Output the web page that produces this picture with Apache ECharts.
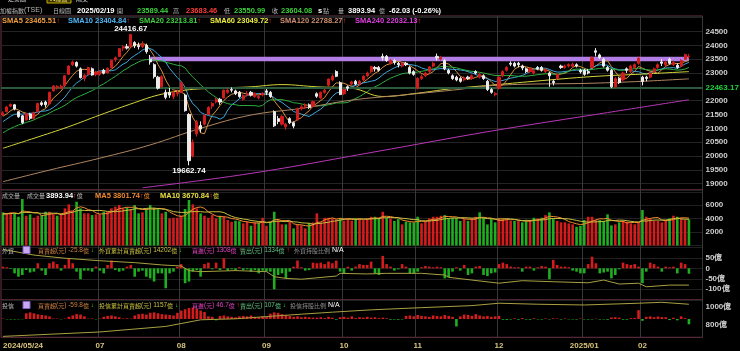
<!DOCTYPE html>
<html><head><meta charset="utf-8">
<script src="https://cdn.jsdelivr.net/npm/echarts@6/dist/echarts.min.js"></script>
<style>html,body{margin:0;padding:0;background:#000;}#c{width:740px;height:351px;}</style>
</head><body><div id="c"></div><script>
// ---------- categories ----------
const tradingDays = {
  '2024/05': [24,27,28,29,30,31],
  '2024/06': [3,4,5,6,7,11,12,13,14,17,18,19,20,21,24,25,26,27,28],
  '2024/07': [1,2,3,4,5,8,9,10,11,12,15,16,17,18,19,22,23,26,29,30,31],
  '2024/08': [1,2,5,6,7,8,9,12,13,14,15,16,19,20,21,22,23,26,27,28,29,30],
  '2024/09': [2,3,4,5,6,9,10,11,12,13,16,18,19,20,23,24,25,26,27,30],
  '2024/10': [1,4,7,8,9,11,14,15,16,17,18,21,22,23,24,25,28,29,30],
  '2024/11': [1,4,5,6,7,8,11,12,13,14,15,18,19,20,21,22,25,26,27,28,29],
  '2024/12': [2,3,4,5,6,9,10,11,12,13,16,17,18,19,20,23,24,25,26,27,30,31],
  '2025/01': [2,3,6,7,8,9,10,13,14,15,16,17,20,21,22],
  '2025/02': [3,4,5,6,7,10,11,12,13,14,17,18,19]
};
const tickNames = {'2024/05':'2024/05/24','2024/07':'07','2024/08':'08','2024/09':'09','2024/10':'10',
  '2024/11':'11','2024/12':'12','2025/01':'2025/01','2025/02':'02'};

// ---------- price (open, close, low, high) ----------
const priorCloses = [20116,20361,20397,20222,20330,20522,20574,20503,20600,20711,20804,20857,21000,21300,21258,21320,21300,21350,21650];
const ohlc = [
[21480,21560,21440,21620],[21600,21770,21580,21800],[21800,21860,21760,21900],[21850,21700,21650,21880],[21600,21420,21380,21620],[21450,21200,21150,21480],
[21300,21540,21280,21560],[21520,21360,21300,21560],[21350,21560,21330,21600],[21600,21900,21580,21920],[21920,21860,21800,21980],[21950,21850,21750,22000],
[21880,22300,21860,22330],[22350,22530,22330,22560],[22480,22510,22400,22560],[22450,22520,22420,22580],[22550,22900,22540,22920],[22950,23250,22930,23280],
[23300,23400,23250,23450],[23380,23250,23200,23420],[23150,22830,22800,23200],[22800,22920,22700,22960],[22950,23200,22920,23230],[23150,22930,22900,23200],
[22950,23030,22880,23080],
[22950,23050,22900,23100],[23100,22990,22950,23150],[23000,23170,22980,23200],[23200,23460,23180,23480],[23480,23550,23400,23600],[23600,23880,23580,23900],
[23900,23950,23800,24000],[23950,23900,23850,24050],[23950,24390,23950,24416.67],[24100,23980,23900,24150],[24000,23950,23850,24100],[23950,24050,23900,24150],
[24000,23770,23700,24060],[23500,23400,23300,23650],[23300,22870,22800,23350],[22850,22450,22400,22900],[22500,22870,22480,22920],[22300,22120,22050,22400],
[22300,22200,22100,22460],[22150,22300,22050,22350],[22250,22300,22150,22400],
[22300,22640,22280,22700],[22200,21640,21600,22250],[21500,19830,19662.74,21550],[20000,20500,19950,20600],[20800,21240,20700,21300],[21100,20975,20850,21250],
[21150,21470,21100,21500],[21500,21750,21480,21800],[21800,21900,21700,21950],[21950,22050,21900,22100],[22050,21950,21850,22100],[22100,22380,22080,22400],
[22300,22380,22250,22450],[22400,22380,22300,22480],[22350,22250,22200,22400],[22300,22150,22100,22350],[22050,22180,22000,22230],[22200,22250,22150,22350],
[22300,22200,22150,22350],[22150,22270,22100,22300],[22100,22150,22050,22250],[22200,22270,22150,22300],
[22350,22300,22200,22420],[22300,22150,22100,22350],[21600,21090,21050,21650],[21350,21250,21150,21450],[21150,21430,21100,21480],[21050,21150,20950,21200],
[21350,21200,21150,21400],[21200,21080,21000,21250],[21300,21700,21280,21750],[21700,21780,21650,21850],[21800,21850,21700,21900],[21850,21750,21700,21900],
[21800,21970,21750,22000],[22250,22160,22100,22300],[22100,22300,22050,22330],[22300,22380,22250,22420],[22560,22780,22500,22800],[22750,22880,22700,22950],
[23050,22880,22850,23100],[22650,22220,22200,22700],
[22250,22400,22200,22450],[22500,22450,22350,22550],[22600,22680,22550,22720],[22700,22600,22550,22750],[22600,22700,22550,22750],[22750,22880,22700,22920],
[22900,23000,22850,23050],[23050,23230,23000,23260],[23200,23150,23050,23250],[23200,23100,23050,23250],[23600,23550,23450,23700],[23600,23450,23400,23650],
[23350,23450,23300,23500],[23450,23380,23300,23500],[23350,23300,23200,23400],[23250,23350,23200,23400],[23350,23300,23250,23400],[23200,23000,22950,23250],
[23050,22950,22900,23100],
[22450,22800,22400,22850],[22800,22870,22750,22950],[22900,23000,22850,23050],[23050,23220,23000,23250],[23250,23350,23200,23400],[23600,23550,23450,23700],
[23500,23560,23450,23620],[23450,23150,23100,23500],[23100,23000,22950,23150],[22900,22800,22750,22950],[22850,22750,22700,22900],[22800,22700,22650,22850],
[22750,22820,22700,22880],[22850,22800,22750,22900],[22800,22900,22750,22950],[23050,23000,22950,23100],[22850,22950,22800,23000],[22900,22800,22750,22950],
[22700,22400,22350,22750],[22400,22300,22250,22450],[22220,22260,22150,22320],
[22450,22850,22400,22880],[22900,23050,22850,23100],[23100,23200,23050,23250],[23350,23320,23250,23420],[23350,23250,23200,23400],[23350,23300,23200,23400],
[23250,23180,23100,23300],[23150,23050,23000,23200],[23050,23150,23000,23200],[23000,23080,22950,23150],[23200,23150,23100,23250],[23200,23100,23050,23250],
[23050,23120,23000,23180],[23000,22900,22500,23050],[22700,22650,22550,22750],[22800,22950,22750,23000],[23250,23200,23150,23300],[23200,23250,23150,23300],
[23250,23300,23200,23350],[23250,23320,23200,23380],[23300,23250,23200,23350],[23100,23040,22980,23150],
[23100,22950,22900,23150],[23050,23000,22950,23150],[23200,23550,23200,23600],[23800,23750,23600,23900],[23650,23560,23500,23700],[23500,23250,23200,23550],
[23200,23100,23050,23250],[23100,22500,22450,23150],[22500,22800,22450,22850],[22800,22650,22600,22850],[22750,23000,22700,23050],[23150,23100,23000,23200],
[23050,23250,23000,23300],[23200,23300,23150,23350],[23350,23530,23300,23600],
[22850,22690,22550,22900],[22850,22800,22700,22900],[22850,23000,22800,23050],[23050,23150,23000,23200],[23200,23300,23150,23350],[23400,23350,23250,23500],
[23300,23400,23250,23450],[23500,23350,23300,23550],[23300,23380,23250,23450],[23280,23200,23150,23350],[23250,23450,23200,23500],[23500,23666.11,23480,23700],
[23589.44,23604.08,23550.99,23683.46]
];

// ---------- moving averages (index, value) ----------
const sma60Read = [[0,20280],[8,20640],[17,21060],[25,21480],[34,21930],[40,22200],[47,22380],[55,22450],[64,22500],[72,22580],[81,22500],[90,22450],[98,22150],[107,22270],[115,22420],[126,22560],[137,22700],[152,22870],[165,22960],[177,23049.72]];
const sma120Read = [[0,19070],[12,19490],[25,19920],[38,20400],[51,21000],[64,21480],[77,21720],[90,22020],[103,22200],[116,22380],[128,22560],[152,22630],[165,22700],[177,22788.27]];
const sma240Read = [[36,18850],[64,19370],[96,20150],[126,20900],[152,21480],[177,22032.13]];

// ---------- volume (億) ----------
const priorVolumes = [4200,4300,4500,5000,4600,4800,4700,4500,4900];
const volumes = [
4940,4791,4940,4791,4283,6925,4433,4642,4134,4433,4537,5030,5030,4642,4433,4537,5537,6134,5134,6522,
5537,4791,4791,4537,4642,4642,5030,5030,5537,5776,6030,5537,5627,5433,6030,4791,4940,5537,6030,5627,
5537,4791,5030,4045,4134,4134,4433,5433,6776,6134,5537,4791,4433,4134,4537,4045,4433,4283,3791,3537,
3698,3624,3298,3537,2940,3448,3448,4134,2940,3537,5030,3791,3149,3149,3537,2552,3149,2999,2552,3298,
3448,4791,3448,4134,4134,4045,3900,4045,3698,4045,3698,4045,4045,3791,4045,
4283,4283,4045,5030,4134,4045,3671,3940,3149,3537,3448,3448,4283,3298,3671,4045,4283,4283,4433,4537,
4045,4134,4134,3671,3940,3671,4045,4283,4940,4134,3149,3940,3448,4045,4045,3940,3671,3671,3671,3448,
3671,3671,4134,4045,4134,4537,4940,3940,3671,3448,3448,3298,3149,2791,2940,3791,4283,4283,3791,3791,
3671,4642,3000,3149,3448,3671,3537,3298,3149,3500,5283,4283,3940,3671,3671,3448,3791,4045,4433,4283,
4045,3791,3893.94
];

// ---------- 外資 / 投信 (億) ----------
const foreignNet = [
8,5,-3,-24,-40,-32,-8,-20,-16,24,-11,-32,24,32,20,-11,16,48,24,-16,-52,-11,-11,-16,8,
-11,-24,16,37,-8,-16,-11,8,16,-40,-16,-11,-40,-48,-63,-24,-24,-95,-24,-16,8,
20,-71,-63,-16,-8,-40,20,27,-5,27,-8,48,-11,-5,-11,5,-8,-5,-16,-8,-24,-11,
-16,-16,-100,-32,-24,-48,-16,8,37,5,-11,-8,27,24,27,20,32,24,37,-16,
-24,8,-11,8,20,16,16,32,-24,-32,59,20,8,-11,-5,20,8,-24,-24,
-16,5,11,8,5,8,5,-48,-43,-16,5,-11,16,-32,-24,8,11,-32,-37,-24,-20,
20,27,20,8,5,5,-16,8,8,-11,5,11,8,-52,40,16,8,8,5,-11,-16,-24,
-24,20,55,24,-24,-20,-16,-48,-32,-5,27,20,16,20,8,
-71,-16,27,20,8,-16,8,5,8,-24,27,20,-25.8
];
const foreignCum = [[0,90],[8,63],[16,48],[25,36],[34,27],[41,16],[46,11],[48,-11],[51,-16],[60,-11],[68,-16],[70,-40],[73,-48],[77,-52],[86,-37],[87,-24],[94,-27],[99,-24],[108,-24],[114,-32],[115,-43],[121,-56],[128,-71],[134,-59],[142,-64],[151,-69],[155,-56],[159,-75],[164,-71],[166,-88],[172,-80],[177,-80]];
const trustNet = [
5,-4,-5,-5,-4,-3,64,75,64,53,45,40,30,6,5,-4,5,25,40,55,50,30,4,6,-4,5,25,35,40,30,20,6,8,5,
40,55,60,50,70,75,65,55,50,45,40,70,95,110,125,130,115,95,80,30,25,-15,35,40,30,25,20,30,35,
30,40,25,20,30,25,60,75,70,55,45,35,25,30,20,25,20,15,15,20,10,25,15,-8,20,25,15,30,10,20,15,25,
15,20,10,15,8,-8,-6,-8,-5,35,40,30,45,35,30,25,40,35,30,45,35,25,-85,30,50,45,35,55,40,30,35,25,30,35,
-8,-10,-6,8,-8,10,-6,-8,8,-5,-6,6,-5,8,5,-6,6,-4,-5,-6,5,-5,-6,-5,4,-6,-5,-8,18,20,15,-8,-8,10,12,
100,-20,25,30,20,28,22,20,-12,15,-15,30,10,-59.8
];
const trustCum = [[0,677],[25,725],[42,785],[51,857],[60,868],[68,892],[77,918],[85,940],[95,965],[108,989],[121,1011],[128,1037],[138,1026],[150,1018],[164,1037],[170,1047],[177,1026]];

// ---------- build ----------
const dates = [], monthStart = new Set(), labelAt = {};
Object.keys(tradingDays).forEach(m => {
  tradingDays[m].forEach((d, k) => {
    if (k === 0 && tickNames[m]) { monthStart.add(dates.length); labelAt[dates.length] = tickNames[m]; }
    dates.push(m + '/' + String(d).padStart(2, '0'));
  });
});
const cats = dates.concat(['', '', '']);
const closes = ohlc.map(r => r[1]);
function sma(src, prior, n) {
  const all = prior.concat(src), off = prior.length;
  return src.map((_, i) => {
    const j = i + off; if (j - n + 1 < 0) return null;
    let s = 0; for (let k = j - n + 1; k <= j; k++) s += all[k];
    return +(s / n).toFixed(2);
  });
}
const prevClose = i => i === 0 ? priorCloses[priorCloses.length - 1] : closes[i - 1];
const RED = '#d41c1c', GRN = '#1fae1f', WHT = '#ececec';

const FONT = '"Liberation Sans","DejaVu Sans",sans-serif';
const CJK = '"Noto Sans CJK TC","Noto Sans CJK SC",sans-serif';
const KIND = {
  c: { fontSize: 6, fontFamily: CJK },
  n: { fontSize: 7.5, fontWeight: 'bold', fontFamily: FONT },
  s: { fontSize: 6.5, fontFamily: FONT },
  l: { fontSize: 7, fontFamily: FONT }
};
const CJK_RE = /([\u2E80-\u9FFF\uF900-\uFAFF\uFF00-\uFFEF]+)|([^\u2E80-\u9FFF\uF900-\uFAFF\uFF00-\uFFEF]+)/g;
function R(x, y, parts) {
  let text = '', rich = {}, k = 0;
  parts.forEach(p => {
    const str = p[0], color = p[1], lk = p[2] || 'n';
    let m; CJK_RE.lastIndex = 0;
    while ((m = CJK_RE.exec(str))) {
      const key = 'k' + (k++);
      text += '{' + key + '|' + m[0] + '}';
      rich[key] = Object.assign({ fill: color, lineHeight: 9 }, KIND[m[1] ? 'c' : lk]);
    }
  });
  return { type: 'text', x: x, y: y, silent: true, z: 100, style: { text: text, rich: rich, verticalAlign: 'middle' } };
}
const GRAY = '#b8b8b8', UP = '#ff3030', DN = '#30d030';
const graphics = [
  // toolbar (cut off at top)
  R(8, -1, [['走勢圖', '#e0e0e0']]),
  {type:'rect', shape:{x:47, y:-8, width:24, height:11}, style:{fill:'#3a3300', stroke:'#c8b000', lineWidth:1}, silent:true, z:99},
  R(50, -1, [['K線圖', '#f0e060']]),
  R(76, -1, [['成交', '#e0e0e0']]),
  // header row
  R(0, 10.5, [['加權指數(TSE)', GRAY, 'l']]),
  R(53, 10.5, [['日線圖', GRAY]]),
  R(77, 10.5, [['2025/02/19', '#ffffff']]),
  R(117, 10.5, [['開', GRAY]]),
  R(137, 10.5, [['23589.44', '#3cd03c']]),
  R(173, 10.5, [['高', GRAY]]),
  R(186, 10.5, [['23683.46', '#ff3a3a']]),
  R(224, 10.5, [['低', GRAY]]),
  R(234, 10.5, [['23550.99', '#3cd03c']]),
  R(272, 10.5, [['收', GRAY]]),
  R(281, 10.5, [['23604.08', '#3cd03c']]),
  R(318, 10.5, [['s', '#ffffff']]),
  R(323, 10.5, [['點', GRAY]]),
  R(338, 10.5, [['量', GRAY]]),
  R(348, 10.5, [['3893.94', '#ffffff']]),
  R(379, 10.5, [['億', GRAY]]),
  R(389, 10.5, [['-62.03 (-0.26%)', '#ffffff']]),
  // SMA legend
  R(2, 21, [['SMA5 23465.51', '#f0a040'], ['↑', UP]]),
  R(68, 21, [['SMA10 23404.84', '#50b8f8'], ['↑', UP]]),
  R(139, 21, [['SMA20 23213.81', '#40d040'], ['↑', UP]]),
  R(210, 21, [['SMA60 23049.72', '#f0f040'], ['↑', UP]]),
  R(280, 21, [['SMA120 22788.27', '#d09070'], ['↑', UP]]),
  R(355, 21, [['SMA240 22032.13', '#e040e0'], ['↑', UP]]),
  // volume title
  R(2, 195.5, [['成交量', GRAY]]),
  R(27, 195.5, [['成交量', GRAY]]),
  R(46, 195.5, [['3893.94', '#ffffff'], ['↑', UP], ['億', GRAY]]),
  R(95, 195.5, [['MA5 3801.74', '#f08a30'], ['↑', UP], ['億', '#f08a30']]),
  R(160, 195.5, [['MA10 3670.84', '#e8e040'], ['↑', UP], ['億', '#e8e040']]),
  // 外資 title
  R(2, 250.5, [['外資', GRAY]]),
  {type:'rect', shape:{x:23, y:246.5, width:7, height:7}, style:{fill:'#c8a8f0', stroke:'#8060c0'}, silent:true, z:99},
  R(38, 250.5, [['買賣超(元) -25.8億', '#d08040', 's'], [' ↓', DN, 's']]),
  R(99, 250.5, [['外資累計買賣超(元) 14202億', '#c8c040', 's'], [' ↓', DN, 's']]),
  R(192, 250.5, [['買進(元) 1308億', '#e040c0', 's'], [' ↑', UP, 's']]),
  R(240, 250.5, [['賣出(元) 1334億', '#60c080', 's'], [' ↑', UP, 's']]),
  R(294, 250.5, [['外資持股比例', '#909090', 's'], [' N/A', '#ffffff', 'l']]),
  // 投信 title
  R(2, 305.5, [['投信', GRAY]]),
  {type:'rect', shape:{x:23, y:301.5, width:7, height:7}, style:{fill:'#c8a8f0', stroke:'#8060c0'}, silent:true, z:99},
  R(38, 305.5, [['買賣超(元) -59.8億', '#d08040', 's'], [' ↓', DN, 's']]),
  R(99, 305.5, [['投信累計買賣超(元) 1157億', '#c8c040', 's'], [' ↓', DN, 's']]),
  R(192, 305.5, [['買進(元) 46.7億', '#e040c0', 's'], [' ↑', UP, 's']]),
  R(240, 305.5, [['賣出(元) 107億', '#60c080', 's'], [' ↓', DN, 's']]),
  R(290, 305.5, [['投信持股比例', '#909090', 's'], [' N/A', '#ffffff', 'l']])
];

const BORDER = '#6a3346';
const gridBase = { left: 1, right: 37.5, show: true, borderColor: BORDER, borderWidth: 1, containLabel: false };
const grids = [
  Object.assign({ top: 16, height: 174 }, gridBase),
  Object.assign({ top: 190, height: 55.5 }, gridBase),
  Object.assign({ top: 245.5, height: 54.5 }, gridBase),
  Object.assign({ top: 300, height: 37.3 }, gridBase)
];
function xAx(g, showLabel) {
  return { type: 'category', gridIndex: g, data: cats, boundaryGap: true,
    axisLine: { show: false }, axisTick: { show: false },
    axisLabel: showLabel ? { show: true, interval: (i) => labelAt[i] !== undefined, formatter: (v, i) => labelAt[i] || '',
      color: '#d8c47a', fontSize: 8, fontWeight: 'bold', fontFamily: FONT, margin: 4, alignMinLabel: 'left', hideOverlap: false } : { show: false },
    splitLine: { show: true, interval: (i) => monthStart.has(i) && i > 0, lineStyle: { color: '#383838', width: 1 } } };
}
const labelStyle = { color: '#cfcfcf', fontSize: 8, fontWeight: 'bold', fontFamily: FONT, margin: 3 };
const yAxes = [
  { type: 'value', gridIndex: 0, position: 'right', min: 18770, max: 25060, splitNumber: 12, scale: true,
    axisLine: { show: false }, axisTick: { show: false },
    axisLabel: Object.assign({ formatter: v => (v % 500 === 0 && v >= 19000 && v <= 24500 && v !== 22500) ? String(v) : '' }, labelStyle),
    splitLine: { show: true, lineStyle: { color: '#242424' } } },
  { type: 'value', gridIndex: 1, position: 'right', min: 0, max: 8270, splitNumber: 4,
    axisLine: { show: false }, axisTick: { show: false },
    axisLabel: Object.assign({ formatter: v => (v === 2000 || v === 4000 || v === 6000) ? String(v) : '' }, labelStyle),
    splitLine: { show: true, lineStyle: { color: '#202020' } } },
  { type: 'value', gridIndex: 2, position: 'right', min: -151, max: 108.6, splitNumber: 5,
    axisLine: { show: false }, axisTick: { show: false },
    axisLabel: Object.assign({ formatter: v => v === 0 ? '0' : ((v === 50 || v === -50 || v === -100) ? v + '億' : '') }, labelStyle),
    splitLine: { show: true, lineStyle: { color: '#202020' } } },
  { type: 'value', gridIndex: 3, position: 'right', min: 667, max: 1072, splitNumber: 2,
    axisLine: { show: false }, axisTick: { show: false },
    axisLabel: Object.assign({ formatter: v => (v === 800 || v === 1000) ? v + '億' : '' }, labelStyle),
    splitLine: { show: false } },
  { type: 'value', gridIndex: 3, position: 'right', min: -207, max: 215, show: false }
];
function lineS(name, data, color, xi, yi, extra) {
  return Object.assign({ name: name, type: 'line', xAxisIndex: xi, yAxisIndex: yi, data: data, symbol: 'none',
    lineStyle: { color: color, width: 1 }, itemStyle: { color: color }, z: 3, silent: true, animation: false }, extra || {});
}
const series = [
  { name: 'TSE', type: 'candlestick', xAxisIndex: 0, yAxisIndex: 0, data: ohlc, barWidth: 2.6, z: 5,
    itemStyle: { color: RED, color0: WHT, borderColor: RED, borderColor0: WHT, borderWidth: 1 },
    markArea: { silent: true, itemStyle: { color: '#b27ee6', opacity: 1 },
      data: [[{ coord: [38, 23590] }, { coord: [177, 23420] }]] },
    markLine: { silent: true, symbol: 'none', animation: false,
      lineStyle: { color: '#2c5a3c', width: 2, type: 'solid' },
      label: { show: true, position: 'end', formatter: '22463.17', color: '#20d040', fontSize: 8, fontWeight: 'bold', fontFamily: FONT, distance: 3 },
      data: [{ yAxis: 22463.17 }] },
    markPoint: { silent: true, symbol: 'circle', symbolSize: 0.1, animation: false,
      label: { show: true, color: '#ffffff', fontSize: 8, fontWeight: 'bold', fontFamily: FONT },
      data: [
        { coord: [33, 24416.67], value: '24416.67', label: { position: 'top', distance: 1 } },
        { coord: [48, 19662.74], value: '19662.74', label: { position: 'bottom', distance: 1 } }
      ] } },
  lineS('SMA5', sma(closes, priorCloses, 5), '#d8903c', 0, 0),
  lineS('SMA10', sma(closes, priorCloses, 10), '#3ea6dc', 0, 0),
  lineS('SMA20', sma(closes, priorCloses, 20), '#2fae3f', 0, 0),
  lineS('SMA60', sma60Read, '#d4d43c', 0, 0, { smooth: 0.4 }),
  lineS('SMA120', sma120Read, '#b08660', 0, 0, { smooth: 0.4 }),
  lineS('SMA240', sma240Read, '#b838b8', 0, 0, { smooth: 0.4 }),
  { name: 'VOL', type: 'bar', xAxisIndex: 1, yAxisIndex: 1, barWidth: 2.6, silent: true,
    data: volumes.map((v, i) => ({ value: v, itemStyle: { color: closes[i] >= prevClose(i) ? RED : GRN } })) },
  lineS('VMA5', sma(volumes, priorVolumes, 5), '#f08a30', 1, 1, { z: 4 }),
  lineS('VMA10', sma(volumes, priorVolumes, 10), '#c8c040', 1, 1, { z: 4 }),
  { name: 'FX', type: 'bar', xAxisIndex: 2, yAxisIndex: 2, barWidth: 2.6, silent: true,
    data: foreignNet.map(v => ({ value: v, itemStyle: { color: v >= 0 ? RED : GRN } })) },
  lineS('FXCUM', foreignCum, '#a8a040', 2, 2, { z: 4 }),
  { name: 'IT', type: 'bar', xAxisIndex: 3, yAxisIndex: 4, barWidth: 2.6, silent: true,
    data: trustNet.map(v => ({ value: v, itemStyle: { color: v >= 0 ? RED : GRN } })) },
  lineS('ITCUM', trustCum, '#a8a040', 3, 3, { z: 4 })
];

const chart = echarts.init(document.getElementById('c'), null, { renderer: 'canvas' });
chart.setOption({
  backgroundColor: '#000000',
  animation: false,
  grid: grids,
  xAxis: [xAx(0, false), xAx(1, false), xAx(2, false), xAx(3, true)],
  yAxis: yAxes,
  series: series,
  graphic: graphics
});
</script></body></html>
